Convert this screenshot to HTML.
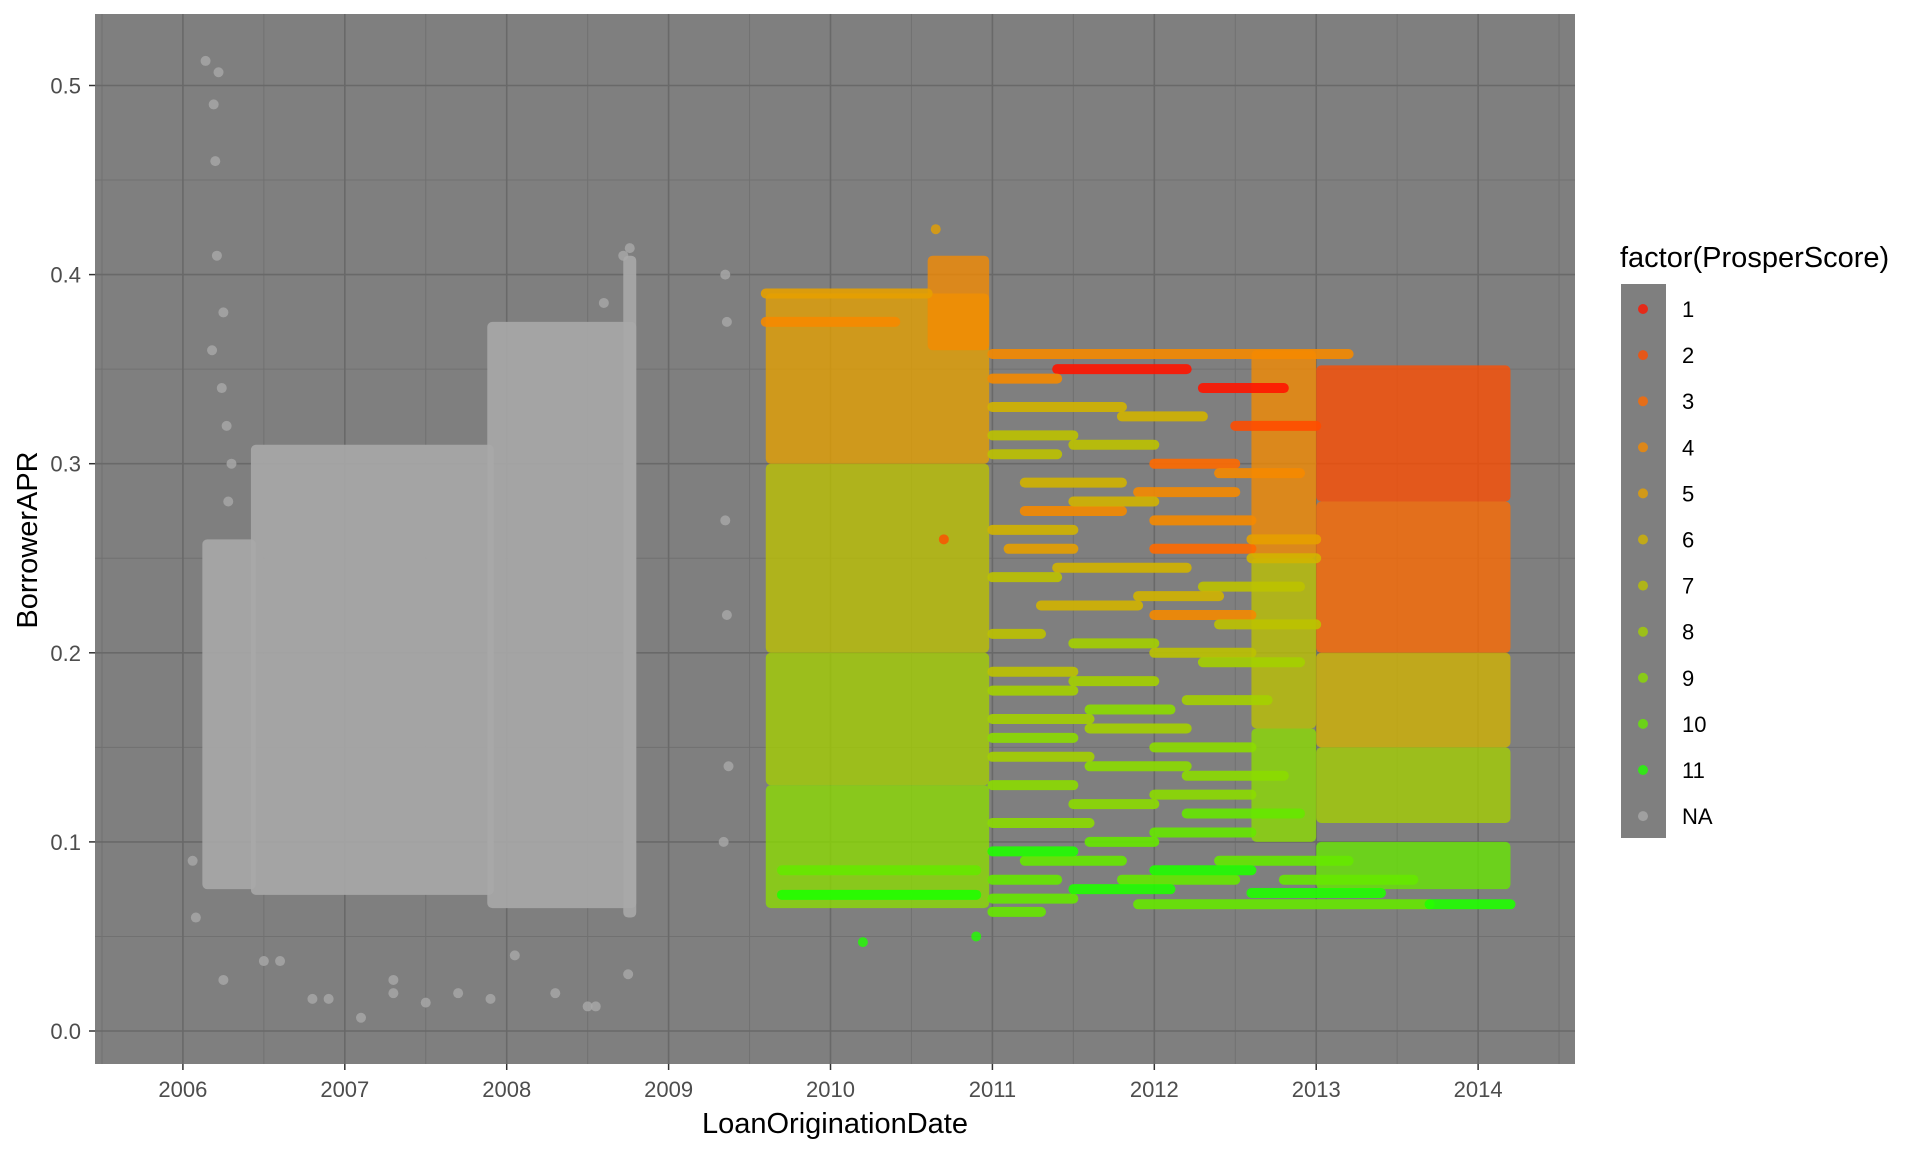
<!DOCTYPE html>
<html><head><meta charset="utf-8">
<style>
html,body{margin:0;padding:0;background:#fff;}
svg{display:block;font-family:"Liberation Sans",Arial,sans-serif;}
</style></head>
<body>
<svg id="chart" width="1920" height="1152" viewBox="0 0 1920 1152">
  <rect x="95" y="14" width="1480" height="1050" fill="#7f7f7f"/>
  <g id="grid"></g>
  <g id="marks"></g>
  <g id="axes"></g>
  <text x="835" y="1133" font-size="29" text-anchor="middle" fill="#000">LoanOriginationDate</text>
  <text transform="translate(37,540) rotate(-90)" font-size="29" text-anchor="middle" fill="#000">BorrowerAPR</text>
  <g id="legend">
    <text x="1620" y="267" font-size="29" fill="#000">factor(ProsperScore)</text>
    <rect x="1621" y="284" width="45" height="554" fill="#7f7f7f"/>
  </g>
</svg>
<script>
// ---- data ----
const yearTicks = [2006,2007,2008,2009,2010,2011,2012,2013,2014];
const aprTicks = [0.0,0.1,0.2,0.3,0.4,0.5];
const aprTickLabels = ["0.0","0.1","0.2","0.3","0.4","0.5"];
const scoreLabels = ["1","2","3","4","5","6","7","8","9","10","11","NA"];
const scoreColors = ["#ff1500","#ff4d00","#ff6a00","#f58a00","#e6a000","#d2b400","#bcc200","#a4d000","#8cdc00","#66e800","#20ff00","#a9a9a9"];
// dense regions: start date, end date, low APR, high APR, score index (11 = NA)
const regStart = [2006.12,2006.42,2007.88,2008.72, 2009.6,2009.6,2009.6,2009.6,2010.6, 2012.6,2012.6,2012.6, 2013.0,2013.0,2013.0,2013.0,2013.0];
const regEnd   = [2006.45,2007.92,2008.8,2008.8, 2010.98,2010.98,2010.98,2010.98,2010.98, 2013.0,2013.0,2013.0, 2014.2,2014.2,2014.2,2014.2,2014.2];
const regLo    = [0.075,0.072,0.065,0.06, 0.30,0.20,0.13,0.065,0.36, 0.25,0.16,0.10, 0.28,0.20,0.15,0.11,0.075];
const regHi    = [0.26,0.31,0.375,0.41, 0.39,0.30,0.20,0.13,0.41, 0.36,0.25,0.16, 0.352,0.28,0.20,0.15,0.10];
const regScore = [11,11,11,11, 4,6,7,8,3, 3,6,8, 1,2,5,7,9];
// horizontal rate stripes
const stStart = [2011.0,2011.4,2012.3,2011.0,2011.0,2011.5,2012.0,2012.5,2011.2,2011.9,2011.2,2012.0,2011.1,2012.0,2011.4,2012.3,2011.3,2012.0,2011.0,2011.5,2012.0,2011.0,2011.5,2012.2,2011.0,2011.6,2012.0,2011.0,2011.6,2011.0,2012.0,2011.5,2011.0,2012.0,2011.6,2011.2,2012.4,2011.0,2011.8,2011.0,2011.9,2013.7,2011.0,2009.6,2009.6,2009.7,2009.7,
  2011.0,2011.8,2011.0,2012.4,2011.5,2011.0,2012.6,2012.6,2011.0,2011.9,2012.4,2012.3,2011.0,2011.6,2011.0,2012.2,2012.2,2011.0,2012.0,2011.5,2012.6,2012.8];
const stEnd   = [2013.2,2012.2,2012.8,2011.8,2011.5,2012.0,2012.5,2013.0,2011.8,2012.5,2011.8,2012.6,2011.5,2012.6,2012.2,2012.9,2011.9,2012.6,2011.3,2012.0,2012.6,2011.5,2012.0,2012.7,2011.6,2012.2,2012.6,2011.6,2012.2,2011.5,2012.6,2012.0,2011.6,2012.6,2012.0,2011.8,2013.2,2011.4,2012.5,2011.5,2013.7,2014.2,2011.3,2010.6,2010.4,2010.9,2010.9,
  2011.4,2012.3,2011.4,2012.9,2012.0,2011.5,2013.0,2013.0,2011.4,2012.4,2013.0,2012.9,2011.5,2012.1,2011.5,2012.8,2012.9,2011.5,2012.6,2012.1,2013.4,2013.6];
const stApr   = [0.358,0.35,0.34,0.33,0.315,0.31,0.30,0.32,0.29,0.285,0.275,0.27,0.255,0.255,0.245,0.235,0.225,0.22,0.21,0.205,0.20,0.19,0.185,0.175,0.165,0.16,0.15,0.145,0.14,0.13,0.125,0.12,0.11,0.105,0.10,0.09,0.09,0.08,0.08,0.07,0.067,0.067,0.063,0.39,0.375,0.085,0.072,
  0.345,0.325,0.305,0.295,0.28,0.265,0.26,0.25,0.24,0.23,0.215,0.195,0.18,0.17,0.155,0.135,0.115,0.095,0.085,0.075,0.073,0.08];
const stScore = [3,0,0,5,6,6,2,1,5,3,3,3,4,2,5,6,5,3,6,7,6,6,7,7,7,7,8,7,8,8,8,8,8,9,9,9,9,9,9,9,9,10,9,4,3,9,10,
  3,5,6,3,5,5,4,5,6,5,6,7,7,8,8,8,9,10,10,10,10,9];
// individual outliers
const ptDate = [2006.14,2006.22,2006.19,2006.2,2006.21,2006.25,2006.18,2006.24,2006.27,2006.3,2006.28,2008.72,2008.76,2008.6,2009.35,2009.36,2009.35,2009.36,2009.37,2009.34,2006.25,2006.5,2006.6,2006.8,2006.9,2007.1,2007.3,2007.3,2007.5,2007.7,2007.9,2008.05,2008.3,2008.5,2008.55,2008.75,2006.06,2006.08,2010.2,2010.9,2010.7,2010.65];
const ptApr  = [0.513,0.507,0.49,0.46,0.41,0.38,0.36,0.34,0.32,0.30,0.28,0.41,0.414,0.385,0.40,0.375,0.27,0.22,0.14,0.10,0.027,0.037,0.037,0.017,0.017,0.007,0.027,0.02,0.015,0.02,0.017,0.04,0.02,0.013,0.013,0.03,0.09,0.06,0.047,0.05,0.26,0.424];
const ptScore= [11,11,11,11,11,11,11,11,11,11,11,11,11,11,11,11,11,11,11,11,11,11,11,11,11,11,11,11,11,11,11,11,11,11,11,11,11,11,10,10,1,4];

// ---- scales ----
const X0=95,X1=1575,Y0=14,Y1=1064;
function xs(d){return 95+(d-2005.457)*161.9;}
function ys(v){return 1031-v*1891;}
const NS="http://www.w3.org/2000/svg";
function mk(tag,parent,attrs){const e=document.createElementNS(NS,tag);for(const k in attrs)e.setAttribute(k,attrs[k]);parent.appendChild(e);return e;}

const grid=document.getElementById('grid');
for(let y=2005.5;y<=2014.5;y+=1){const l=mk('line',grid,{x1:xs(y),x2:xs(y),y1:Y0,y2:Y1,stroke:'#717171','stroke-width':1});

}
for(let v=0.05;v<0.56;v+=0.1){const l=mk('line',grid,{x1:X0,x2:X1,y1:ys(v),y2:ys(v),stroke:'#717171','stroke-width':1});

}
yearTicks.forEach(t=>{const l=mk('line',grid,{x1:xs(t),x2:xs(t),y1:Y0,y2:Y1,stroke:'#696969','stroke-width':1.6});

});
aprTicks.forEach(t=>{const l=mk('line',grid,{x1:X0,x2:X1,y1:ys(t),y2:ys(t),stroke:'#696969','stroke-width':1.6});

});

const marks=document.getElementById('marks');
for(let i=0;i<regStart.length;i++){
  const r=mk('rect',marks,{x:xs(regStart[i]),y:ys(regHi[i]),width:xs(regEnd[i])-xs(regStart[i]),height:ys(regLo[i])-ys(regHi[i]),rx:5,fill:scoreColors[regScore[i]],'fill-opacity':regScore[i]===11?0.9:0.78});
  
  
}
for(let i=0;i<stStart.length;i++){
  const l=mk('line',marks,{x1:xs(stStart[i]),x2:xs(stEnd[i]),y1:ys(stApr[i]),y2:ys(stApr[i]),stroke:scoreColors[stScore[i]],'stroke-width':10,'stroke-linecap':'round','stroke-opacity':0.9});
  
  
}
for(let i=0;i<ptDate.length;i++){
  const c=mk('circle',marks,{cx:xs(ptDate[i]),cy:ys(ptApr[i]),r:5,fill:scoreColors[ptScore[i]],'fill-opacity':0.8});
  
  
}

const axes=document.getElementById('axes');
yearTicks.forEach(t=>{
  const l=mk('line',axes,{x1:xs(t),x2:xs(t),y1:Y1,y2:Y1+6,stroke:'#333','stroke-width':1.5});
  
  
  const tx=mk('text',axes,{x:xs(t),y:1097,'font-size':22,'text-anchor':'middle',fill:'#4d4d4d'});
  tx.textContent=String(t);
  
  
});
aprTicks.forEach((t,i)=>{
  const l=mk('line',axes,{x1:X0-6,x2:X0,y1:ys(t),y2:ys(t),stroke:'#333','stroke-width':1.5});
  
  
  const tx=mk('text',axes,{x:81,y:ys(t)+8,'font-size':22,'text-anchor':'end',fill:'#4d4d4d'});
  tx.textContent=aprTickLabels[i];
  
  
});

const legend=document.getElementById('legend');
scoreLabels.forEach((s,i)=>{
  const cy=309+i*46.1;
  const c=mk('circle',legend,{cx:1643,cy:cy,r:5,fill:scoreColors[i],'fill-opacity':0.8});
  
  
  const t=mk('text',legend,{x:1682,y:cy+8,'font-size':22,fill:'#000'});
  t.textContent=s;
  
  
});
</script>
</body></html>
